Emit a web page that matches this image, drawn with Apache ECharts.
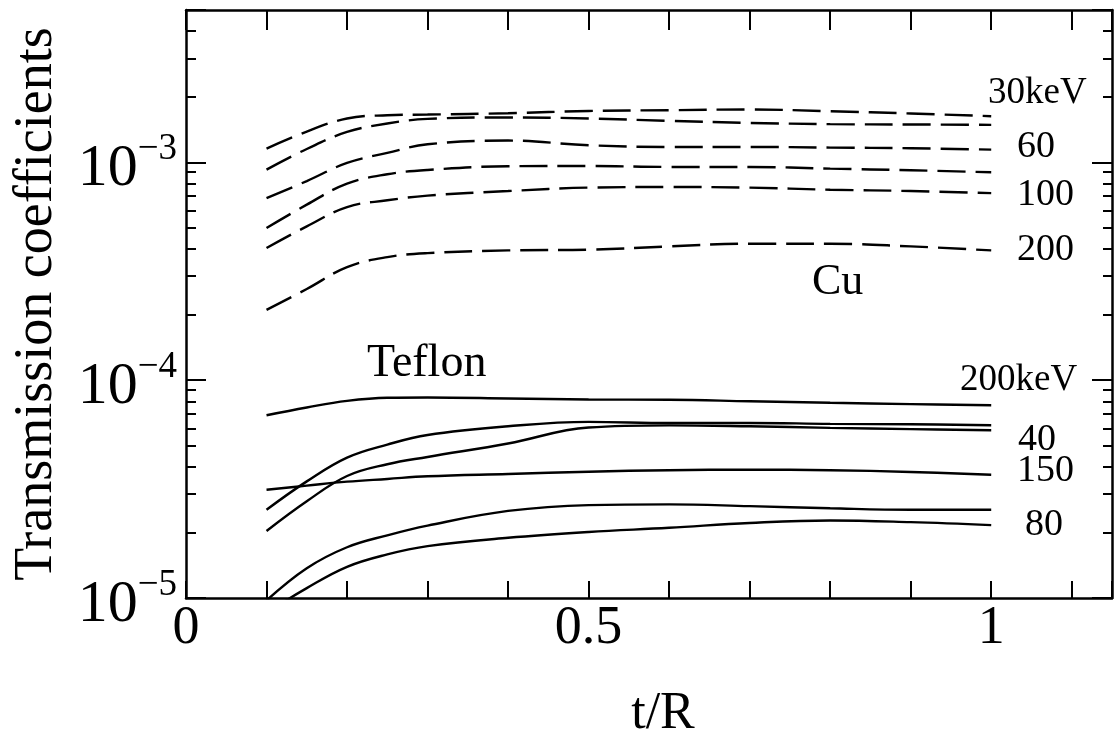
<!DOCTYPE html>
<html><head><meta charset="utf-8">
<script src="https://cdn.jsdelivr.net/npm/echarts@6/dist/echarts.min.js"></script>
<style>html,body{margin:0;padding:0;background:#fff}#c{width:1115px;height:745px}</style>
</head><body><div id="c"></div>
<script>
// t/R sample positions
const tR = [0.1, 0.15, 0.2, 0.25, 0.3, 0.4, 0.5, 0.6, 0.7, 0.8, 0.9, 1.0];
// Cu (dashed), top to bottom
const cuA = [1.156e-3, 1.384e-3, 1.589e-3, 1.644e-3, 1.656e-3, 1.68e-3, 1.72e-3, 1.734e-3, 1.747e-3, 1.716e-3, 1.675e-3, 1.627e-3];
const cuB = [9.25e-4, 1.151e-3, 1.378e-3, 1.506e-3, 1.582e-3, 1.606e-3, 1.589e-3, 1.549e-3, 1.516e-3, 1.496e-3, 1.491e-3, 1.485e-3];
const cuC = [6.85e-4, 8.2e-4, 9.93e-4, 1.104e-3, 1.21e-3, 1.258e-3, 1.197e-3, 1.176e-3, 1.176e-3, 1.168e-3, 1.16e-3, 1.143e-3];
const cuD = [4.99e-4, 6.39e-4, 7.98e-4, 8.81e-4, 9.22e-4, 9.59e-4, 9.62e-4, 9.52e-4, 9.52e-4, 9.35e-4, 9.19e-4, 9.0e-4];
const cuE = [4.04e-4, 5.08e-4, 6.23e-4, 6.69e-4, 7.03e-4, 7.38e-4, 7.65e-4, 7.7e-4, 7.65e-4, 7.48e-4, 7.38e-4, 7.22e-4];
const cuF = [2.1e-4, 2.62e-4, 3.3e-4, 3.67e-4, 3.83e-4, 3.94e-4, 3.97e-4, 4.11e-4, 4.23e-4, 4.23e-4, 4.11e-4, 3.94e-4];
// Teflon (solid)
const tfA = [6.9e-5, 7.49e-5, 8.03e-5, 8.3e-5, 8.32e-5, 8.24e-5, 8.15e-5, 8.13e-5, 8.0e-5, 7.87e-5, 7.76e-5, 7.67e-5];
const tfB = [2.54e-5, 3.43e-5, 4.41e-5, 5.06e-5, 5.6e-5, 6.14e-5, 6.43e-5, 6.36e-5, 6.36e-5, 6.3e-5, 6.27e-5, 6.21e-5];
const tfC = [2.03e-5, 2.78e-5, 3.63e-5, 4.11e-5, 4.44e-5, 5.12e-5, 6.06e-5, 6.2e-5, 6.14e-5, 6.04e-5, 5.96e-5, 5.89e-5];
const tfD = [3.14e-5, 3.28e-5, 3.42e-5, 3.52e-5, 3.62e-5, 3.71e-5, 3.8e-5, 3.86e-5, 3.88e-5, 3.86e-5, 3.79e-5, 3.68e-5];
const tfE = [9.74e-6, 1.37e-5, 1.71e-5, 1.94e-5, 2.15e-5, 2.51e-5, 2.67e-5, 2.69e-5, 2.64e-5, 2.58e-5, 2.54e-5, 2.54e-5];
const tfF = [8.55e-6, 1.11e-5, 1.39e-5, 1.585e-5, 1.73e-5, 1.89e-5, 2.01e-5, 2.1e-5, 2.21e-5, 2.27e-5, 2.23e-5, 2.16e-5];

// axis ticks / labels
const xLabelValues = [0, 0.5, 1];
const yTickValues = [1e-5, 1e-4, 1e-3];
const yTickSup = ['\u22125', '\u22124', '\u22123'];
const yMinorTicks = [2e-5, 3e-5, 4e-5, 5e-5, 6e-5, 7e-5, 8e-5, 9e-5,
                     2e-4, 3e-4, 4e-4, 5e-4, 6e-4, 7e-4, 8e-4, 9e-4,
                     2e-3, 3e-3, 4e-3];
const annotations = [
  {text: '30keV', left: 988, cy: 93, size: 37},
  {text: '60', left: 1017, cy: 147, size: 38},
  {text: '100', left: 1017, cy: 195, size: 38},
  {text: '200', left: 1017, cy: 250, size: 38},
  {text: 'Cu', left: 812, cy: 282, size: 44},
  {text: 'Teflon', left: 367, cy: 364, size: 46},
  {text: '200keV', left: 960, cy: 380, size: 37},
  {text: '40', left: 1018, cy: 440, size: 38},
  {text: '150', left: 1017, cy: 471, size: 38},
  {text: '80', left: 1025, cy: 525, size: 38}
];

const FONT = '"Liberation Serif", "Times New Roman", serif';
const X_MAX = 1.15, Y_MIN = 1e-5, Y_MAX = 5e-3;
const black = '#000';

function pairs(vals) { return tR.map((t, i) => [t, vals[i]]); }
function mk(vals, dashed) {
  return {
    type: 'line', data: pairs(vals), xAxisIndex: 0, yAxisIndex: 0,
    showSymbol: false, smooth: 0.4, clip: true, silent: true,
    lineStyle: {color: black, width: 2.4, type: dashed ? [28, 10] : 'solid'}
  };
}

const chart = echarts.init(document.getElementById('c'));
const minorLog = yMinorTicks.map(v => Math.log10(v));
const axisLine = {show: true, lineStyle: {color: black, width: 2.5}};

chart.setOption({
  backgroundColor: '#fff',
  animation: false,
  grid: {left: 186, right: 3, top: 10, bottom: 147, containLabel: false},
  xAxis: [
    {type: 'value', position: 'bottom', min: 0, max: X_MAX, interval: 0.1,
     axisLine, splitLine: {show: false},
     axisTick: {show: true, inside: true, length: 17, lineStyle: {color: black, width: 2}},
     axisLabel: {customValues: xLabelValues, margin: 4, color: black, fontFamily: FONT, fontSize: 54},
     name: 't/R', nameLocation: 'middle', nameGap: 90,
     nameTextStyle: {color: black, fontFamily: FONT, fontSize: 52, padding: [0, 0, 0, 28]}},
    {type: 'value', position: 'top', min: 0, max: X_MAX, interval: 0.1,
     axisLine, splitLine: {show: false}, axisLabel: {show: false},
     axisTick: {show: true, inside: true, length: 20, lineStyle: {color: black, width: 2}}}
  ],
  yAxis: [
    {type: 'log', position: 'left', min: Y_MIN, max: Y_MAX, logBase: 10,
     axisLine, splitLine: {show: false},
     axisTick: {show: true, inside: true, length: 20, lineStyle: {color: black, width: 2}},
     axisLabel: {
       margin: 9, color: black, fontFamily: FONT, padding: [14, 0, 0, 0],
       formatter: function (v) {
         const i = yTickValues.findIndex(t => Math.abs(Math.log10(v) - Math.log10(t)) < 1e-6);
         return i < 0 ? '' : '{b|10}{s|' + yTickSup[i] + '}';
       },
       rich: {
         b: {fontFamily: FONT, fontSize: 60, lineHeight: 76, color: black},
         s: {fontFamily: FONT, fontSize: 37, lineHeight: 38, verticalAlign: 'top', color: black}
       }
     },
     name: 'Transmission coefficients', nameLocation: 'middle', nameGap: 122,
     nameTextStyle: {color: black, fontFamily: FONT, fontSize: 54}},
    {type: 'value', position: 'left', min: -5, max: Math.log10(Y_MAX),
     axisLine: {show: false}, splitLine: {show: false}, axisLabel: {show: false},
     axisTick: {show: true, inside: true, length: 10, customValues: minorLog, lineStyle: {color: black, width: 2}}},
    {type: 'log', position: 'right', min: Y_MIN, max: Y_MAX, logBase: 10,
     axisLine, splitLine: {show: false}, axisLabel: {show: false},
     axisTick: {show: true, inside: true, length: 20, lineStyle: {color: black, width: 2}}},
    {type: 'value', position: 'right', min: -5, max: Math.log10(Y_MAX),
     axisLine: {show: false}, splitLine: {show: false}, axisLabel: {show: false},
     axisTick: {show: true, inside: true, length: 9, customValues: minorLog, lineStyle: {color: black, width: 2}}}
  ],
  series: [
    mk(cuA, true), mk(cuB, true), mk(cuC, true), mk(cuD, true), mk(cuE, true), mk(cuF, true),
    mk(tfA, false), mk(tfB, false), mk(tfC, false), mk(tfD, false), mk(tfE, false), mk(tfF, false)
  ],
  graphic: annotations.map(a => ({
    type: 'text', x: a.left, y: a.cy, silent: true,
    style: {text: a.text, fill: black, font: a.size + 'px ' + FONT, align: 'left', verticalAlign: 'middle'}
  }))
});
</script>
</body></html>
